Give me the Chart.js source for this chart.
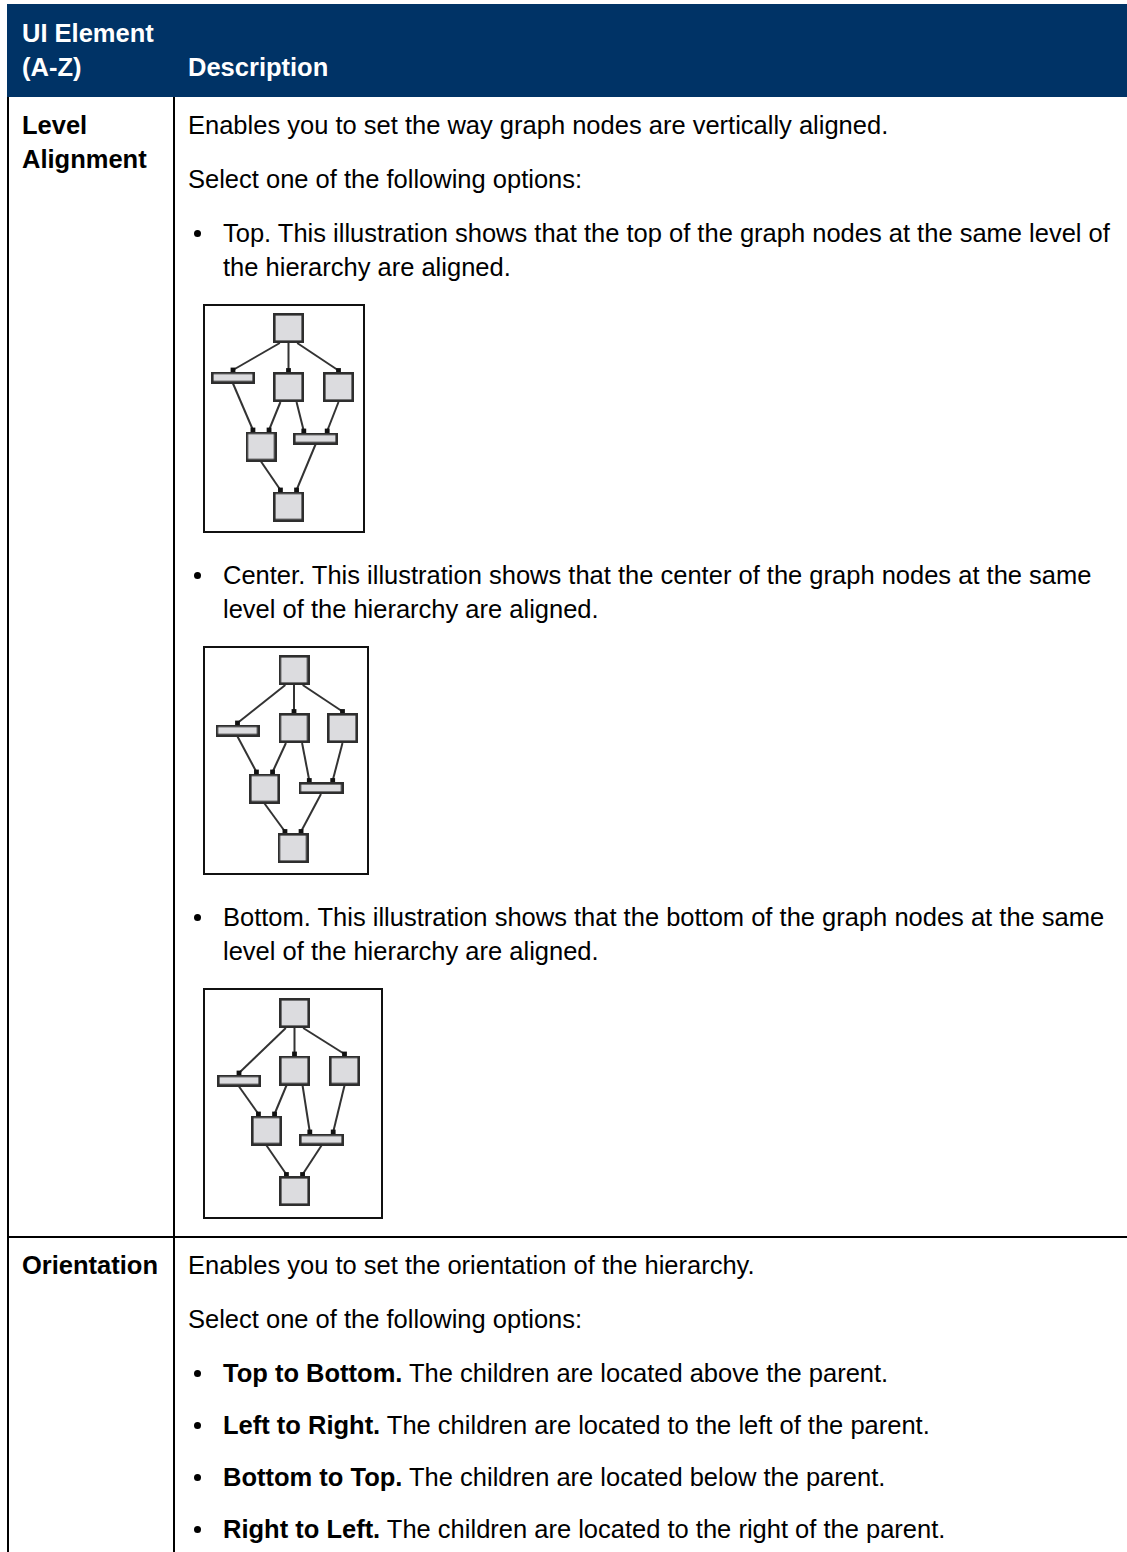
<!DOCTYPE html>
<html>
<head>
<meta charset="utf-8">
<script src="https://cdn.jsdelivr.net/npm/chart.js@4"></script>
<style>
body { margin: 0; width: 1127px; height: 1552px; overflow: hidden; position: relative; background: #fff;
  font-family: "Liberation Sans", Arial, sans-serif; font-size: 25.5px; line-height: 34px; color: #000; }
.hdr { position: absolute; left: 7px; top: 4px; width: 1130px; height: 93px; background: #003366; color: #fff; font-weight: bold; }
.hdr .c1 { position: absolute; left: 15px; top: 12px; }
.hdr .c2 { position: absolute; left: 181px; top: 46px; }
.line { position: absolute; background: #000; }
.name { position: absolute; left: 22px; font-weight: bold; }
.desc { position: absolute; left: 188px; white-space: nowrap; }
.desc p { margin: 0 0 20px 0; }
.li { position: relative; padding-left: 35px; margin-bottom: 20px; }
.li::before { content: ""; position: absolute; left: 5.5px; top: 13.5px; width: 7.5px; height: 7.5px; border-radius: 50%; background: #000; }
.li.s { margin-bottom: 18px; }
.frame { position: relative; margin-left: 15px; margin-bottom: 25px; background: #fff; }
.frame canvas { position: absolute; left: 0; top: 0; }
.frame .bd { position: absolute; left: 0; top: 0; right: 0; bottom: 0; border: 2px solid #111; box-sizing: border-box; }
</style>
</head>
<body>
<div class="hdr"><div class="c1">UI Element<br>(A-Z)</div><div class="c2">Description</div></div>
<div class="line" style="left:7px;top:97px;width:2px;height:1455px"></div>
<div class="line" style="left:173px;top:97px;width:2px;height:1455px"></div>
<div class="line" style="left:7px;top:1236px;width:1120px;height:2px"></div>

<div class="name" style="top:108px">Level<br>Alignment</div>
<div class="desc" style="top:108px">
  <p>Enables you to set the way graph nodes are vertically aligned.</p>
  <p>Select one of the following options:</p>
  <div class="li">Top. This illustration shows that the top of the graph nodes at the same level of<br>the hierarchy are aligned.</div>
  <div class="frame" style="width:162px;height:229px"><canvas id="g1" width="162" height="229"></canvas><div class="bd"></div></div>
  <div class="li">Center. This illustration shows that the center of the graph nodes at the same<br>level of the hierarchy are aligned.</div>
  <div class="frame" style="width:166px;height:229px"><canvas id="g2" width="166" height="229"></canvas><div class="bd"></div></div>
  <div class="li">Bottom. This illustration shows that the bottom of the graph nodes at the same<br>level of the hierarchy are aligned.</div>
  <div class="frame" style="width:180px;height:231px"><canvas id="g3" width="180" height="231"></canvas><div class="bd"></div></div>
</div>

<div class="name" style="top:1248px">Orientation</div>
<div class="desc" style="top:1248px">
  <p>Enables you to set the orientation of the hierarchy.</p>
  <p>Select one of the following options:</p>
  <div class="li s"><b>Top to Bottom.</b> The children are located above the parent.</div>
  <div class="li s"><b>Left to Right.</b> The children are located to the left of the parent.</div>
  <div class="li s"><b>Bottom to Top.</b> The children are located below the parent.</div>
  <div class="li s"><b>Right to Left.</b> The children are located to the right of the parent.</div>
</div>

<script>
// graph nodes: top, left (wide), middle, right, lower left, lower right (wide), bottom
const nodeNames = ['top', 'left', 'mid', 'right', 'lowL', 'lowR', 'bottom'];
const nodeW = [31, 44, 31, 31, 31, 45, 31];
const nodeH = [30, 12, 30, 30, 30, 12, 30];
// edges as [from, to] node indexes
const edges = [[0, 1], [0, 2], [0, 3], [1, 4], [2, 4], [2, 5], [3, 5], [4, 6], [5, 6]];

// node centres (frame pixels from top left)
const topAlignX = [85.5, 30, 85.5, 135.5, 58, 112.5, 85.5];
const topAlignY = [24, 73.5, 83, 83, 142.5, 134.5, 202.5];
const centerAlignX = [91, 34.5, 91, 139.5, 61.5, 118, 90];
const centerAlignY = [24, 84.5, 82, 82, 142.5, 142, 202];
const bottomAlignX = [91.5, 36, 91.5, 141.5, 63.5, 118.5, 91.5];
const bottomAlignY = [25, 92.5, 82.5, 82.5, 142.5, 151.5, 203];

function nodeImage(w, h) {
  const c = document.createElement('canvas');
  c.width = w; c.height = h;
  const g = c.getContext('2d');
  g.fillStyle = '#dcdcdf';
  g.fillRect(0, 0, w, h);
  g.strokeStyle = '#2e2e2e';
  g.lineWidth = 2.6;
  g.strokeRect(1.3, 1.3, w - 2.6, h - 2.6);
  return c;
}

// spread the ports of a node across its bottom / top edge
function portOffset(i, n, w) {
  if (n < 2) return 0;
  const step = n == 2 ? w * 0.52 : w * 0.28;
  return (i - (n - 1) / 2) * step;
}

function drawGraph(id, xs, ys) {
  const canvas = document.getElementById(id);
  const W = canvas.width, H = canvas.height;
  const datasets = [];

  datasets.push({
    label: 'nodes',
    data: nodeNames.map((n, i) => ({ x: xs[i], y: ys[i] })),
    pointStyle: nodeNames.map((n, i) => nodeImage(nodeW[i], nodeH[i])),
    pointRadius: 3
  });

  edges.forEach(e => {
    const a = e[0], b = e[1];
    const outs = edges.filter(f => f[0] == a).sort((p, q) => xs[p[1]] - xs[q[1]]);
    const ins = edges.filter(f => f[1] == b).sort((p, q) => xs[p[0]] - xs[q[0]]);
    const sx = xs[a] + portOffset(outs.indexOf(e), outs.length, nodeW[a]);
    const ex = xs[b] + portOffset(ins.indexOf(e), ins.length, nodeW[b]);
    datasets.push({
      label: nodeNames[a] + '-' + nodeNames[b],
      data: [{ x: sx, y: ys[a] + nodeH[a] / 2 }, { x: ex, y: ys[b] - nodeH[b] / 2 - 1.5 }],
      showLine: true,
      borderColor: '#333',
      borderWidth: 2,
      pointRadius: [0, 3.4],
      pointStyle: 'rect',
      pointBackgroundColor: '#111',
      pointBorderWidth: 0
    });
  });

  new Chart(canvas.getContext('2d'), {
    type: 'scatter',
    data: { datasets: datasets },
    options: {
      responsive: false,
      animation: false,
      events: [],
      layout: { padding: 0, autoPadding: false },
      plugins: { legend: { display: false }, tooltip: { enabled: false } },
      scales: {
        x: { display: false, min: 0, max: W },
        y: { display: false, min: 0, max: H, reverse: true }
      }
    }
  });
}

drawGraph('g1', topAlignX, topAlignY);
drawGraph('g2', centerAlignX, centerAlignY);
drawGraph('g3', bottomAlignX, bottomAlignY);
</script>
</body>
</html>
